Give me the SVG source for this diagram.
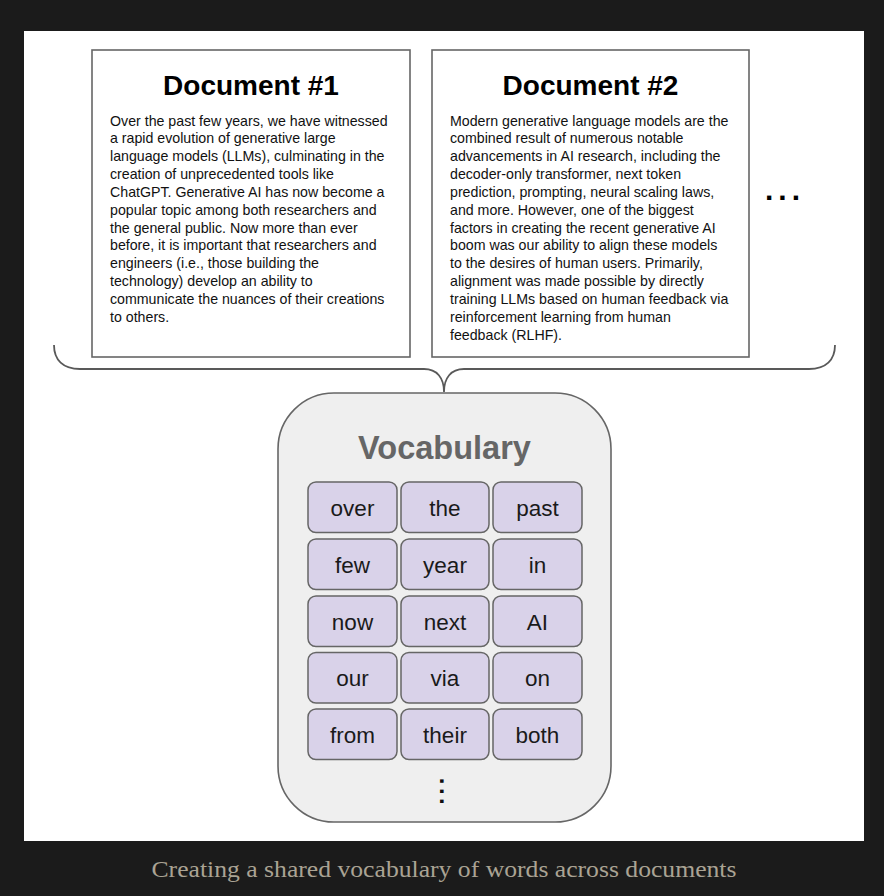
<svg xmlns="http://www.w3.org/2000/svg" width="884" height="896" viewBox="0 0 884 896">
  <style>
    .doc { fill: #ffffff; stroke: #666666; stroke-width: 1.6; }
    .title { font-family: "Liberation Sans", Arial, sans-serif; font-weight: bold; font-size: 28px; fill: #000000; text-anchor: middle; }
    .body { font-family: "Liberation Sans", Arial, sans-serif; font-size: 14.2px; fill: #111111; }
    .tile { fill: #d9d2e9; stroke: #666666; stroke-width: 1.5; }
    .word { font-family: "Liberation Sans", Arial, sans-serif; font-size: 22.5px; fill: #1a1a1a; text-anchor: middle; }
    .brace { fill: none; stroke: #595959; stroke-width: 1.8; }
  </style>

  <!-- page background and white canvas -->
  <rect x="0" y="0" width="884" height="896" fill="#1b1b1b"/>
  <rect x="24" y="31" width="840" height="810" fill="#ffffff"/>

  <!-- Document #1 -->
  <g id="doc1">
    <rect class="doc" x="92" y="50" width="318" height="307"/>
    <text class="title" x="251" y="95">Document #1</text>
    <text class="body" x="110" y="125.5">
      <tspan x="110" dy="0">Over the past few years, we have witnessed</tspan>
      <tspan x="110" dy="17.85">a rapid evolution of generative large</tspan>
      <tspan x="110" dy="17.85">language models (LLMs), culminating in the</tspan>
      <tspan x="110" dy="17.85">creation of unprecedented tools like</tspan>
      <tspan x="110" dy="17.85">ChatGPT. Generative AI has now become a</tspan>
      <tspan x="110" dy="17.85">popular topic among both researchers and</tspan>
      <tspan x="110" dy="17.85">the general public. Now more than ever</tspan>
      <tspan x="110" dy="17.85">before, it is important that researchers and</tspan>
      <tspan x="110" dy="17.85">engineers (i.e., those building the</tspan>
      <tspan x="110" dy="17.85">technology) develop an ability to</tspan>
      <tspan x="110" dy="17.85">communicate the nuances of their creations</tspan>
      <tspan x="110" dy="17.85">to others.</tspan>
    </text>
  </g>

  <!-- Document #2 -->
  <g id="doc2">
    <rect class="doc" x="432" y="50" width="317" height="307"/>
    <text class="title" x="590.5" y="95">Document #2</text>
    <text class="body" x="450" y="125.5">
      <tspan x="450" dy="0">Modern generative language models are the</tspan>
      <tspan x="450" dy="17.85">combined result of numerous notable</tspan>
      <tspan x="450" dy="17.85">advancements in AI research, including the</tspan>
      <tspan x="450" dy="17.85">decoder-only transformer, next token</tspan>
      <tspan x="450" dy="17.85">prediction, prompting, neural scaling laws,</tspan>
      <tspan x="450" dy="17.85">and more. However, one of the biggest</tspan>
      <tspan x="450" dy="17.85">factors in creating the recent generative AI</tspan>
      <tspan x="450" dy="17.85">boom was our ability to align these models</tspan>
      <tspan x="450" dy="17.85">to the desires of human users. Primarily,</tspan>
      <tspan x="450" dy="17.85">alignment was made possible by directly</tspan>
      <tspan x="450" dy="17.85">training LLMs based on human feedback via</tspan>
      <tspan x="450" dy="17.85">reinforcement learning from human</tspan>
      <tspan x="450" dy="17.85">feedback (RLHF).</tspan>
    </text>
  </g>

  <!-- more documents -->
  <g id="more-docs">
    <text x="785" y="200" font-family="Liberation Sans, Arial, sans-serif" font-weight="bold" font-size="30" letter-spacing="5" text-anchor="middle" fill="#000000">...</text>
  </g>

  <!-- brace gathering the documents into the vocabulary -->
  <g id="connectors">
    <path class="brace" d="M54,345 C54,360 63,369 80,369 L424,369 C437,369 444,378 444,392 C444,378 451,369 464,369 L809,369 C826,369 835,360 835,345"/>
  </g>

  <!-- Vocabulary -->
  <g id="vocabulary">
    <rect x="278" y="393" width="333" height="429" rx="56" ry="56" fill="#efefef" stroke="#666666" stroke-width="1.6"/>
    <text x="444.5" y="459" font-family="Liberation Sans, Arial, sans-serif" font-weight="bold" font-size="32.5" fill="#666666" text-anchor="middle">Vocabulary</text>

    <g id="row1">
      <rect class="tile" x="308" y="482" width="89" height="50.5" rx="8"/>
      <rect class="tile" x="401" y="482" width="88" height="50.5" rx="8"/>
      <rect class="tile" x="493" y="482" width="89" height="50.5" rx="8"/>
      <text class="word" x="352.5" y="515.5">over</text>
      <text class="word" x="445" y="515.5">the</text>
      <text class="word" x="537.5" y="515.5">past</text>
    </g>
    <g id="row2">
      <rect class="tile" x="308" y="539" width="89" height="50.5" rx="8"/>
      <rect class="tile" x="401" y="539" width="88" height="50.5" rx="8"/>
      <rect class="tile" x="493" y="539" width="89" height="50.5" rx="8"/>
      <text class="word" x="352.5" y="572.5">few</text>
      <text class="word" x="445" y="572.5">year</text>
      <text class="word" x="537.5" y="572.5">in</text>
    </g>
    <g id="row3">
      <rect class="tile" x="308" y="596" width="89" height="50.5" rx="8"/>
      <rect class="tile" x="401" y="596" width="88" height="50.5" rx="8"/>
      <rect class="tile" x="493" y="596" width="89" height="50.5" rx="8"/>
      <text class="word" x="352.5" y="629.5">now</text>
      <text class="word" x="445" y="629.5">next</text>
      <text class="word" x="537.5" y="629.5">AI</text>
    </g>
    <g id="row4">
      <rect class="tile" x="308" y="652.5" width="89" height="50.5" rx="8"/>
      <rect class="tile" x="401" y="652.5" width="88" height="50.5" rx="8"/>
      <rect class="tile" x="493" y="652.5" width="89" height="50.5" rx="8"/>
      <text class="word" x="352.5" y="686">our</text>
      <text class="word" x="445" y="686">via</text>
      <text class="word" x="537.5" y="686">on</text>
    </g>
    <g id="row5">
      <rect class="tile" x="308" y="709" width="89" height="50.5" rx="8"/>
      <rect class="tile" x="401" y="709" width="88" height="50.5" rx="8"/>
      <rect class="tile" x="493" y="709" width="89" height="50.5" rx="8"/>
      <text class="word" x="352.5" y="742.5">from</text>
      <text class="word" x="445" y="742.5">their</text>
      <text class="word" x="537.5" y="742.5">both</text>
    </g>

    <!-- vertical ellipsis: more words -->
    <text x="0" y="0" transform="translate(448,793) rotate(90)" font-family="Liberation Sans, Arial, sans-serif" font-weight="bold" font-size="24" letter-spacing="3.5" text-anchor="middle" dominant-baseline="central" fill="#111111">...</text>
  </g>

  <!-- caption -->
  <text x="444" y="877" font-family="Liberation Serif, Times New Roman, serif" font-size="23" fill="#aaa394" text-anchor="middle" textLength="585" lengthAdjust="spacingAndGlyphs">Creating a shared vocabulary of words across documents</text>
</svg>
